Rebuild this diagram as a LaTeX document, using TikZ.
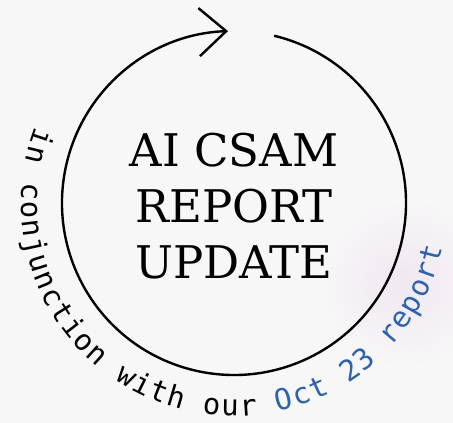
\documentclass[tikz,border=0pt]{standalone}
\usepackage{fontspec}
\usetikzlibrary{arrows.meta,decorations.text}
\newfontfamily\slabfont{DejaVu Serif}
\newfontfamily\monofont{DejaVu Sans Mono}
\definecolor{octblue}{HTML}{2E62AC}
\definecolor{paper}{HTML}{F7F7F7}
\definecolor{tint}{HTML}{F0E7F1}
\newcommand{\ringfont}{\fontsize{29}{29}\monofont}

\begin{document}
\begin{tikzpicture}[x=1pt,y=1pt,>={Straight Barb[length=27pt,width=48pt,line width=2.4pt]},
                    semithick]
\tikzstyle{title}=[font=\fontsize{45}{56}\slabfont,align=center,text=black]
\tikzset{ring/.style={line width=2.4pt,->}}

        \fill[paper] (0,0) rectangle (453,423);
        \useasboundingbox (0,0) rectangle (453,423);
        \shade[inner color=tint,outer color=paper] (405,140) circle[radius=85]; %faint smudge

        \coordinate (c) at (234,220);
        \node[title]          (t) at (234,217) {AI CSAM\\REPORT\\UPDATE};

        \draw[ring] (c) ++(76.5:172) arc[start angle=76.5,end angle=-268,radius=172];

        \path[decorate,decoration={text along path,text align=fit to path,
              text={|\ringfont\color{black}|in conjunction with our |\ringfont\color{octblue}|Oct 23 report}}]
              (c) ++(159:213) arc[start angle=159,end angle=348,radius=213]; %curved caption

\end{tikzpicture}
\end{document}
